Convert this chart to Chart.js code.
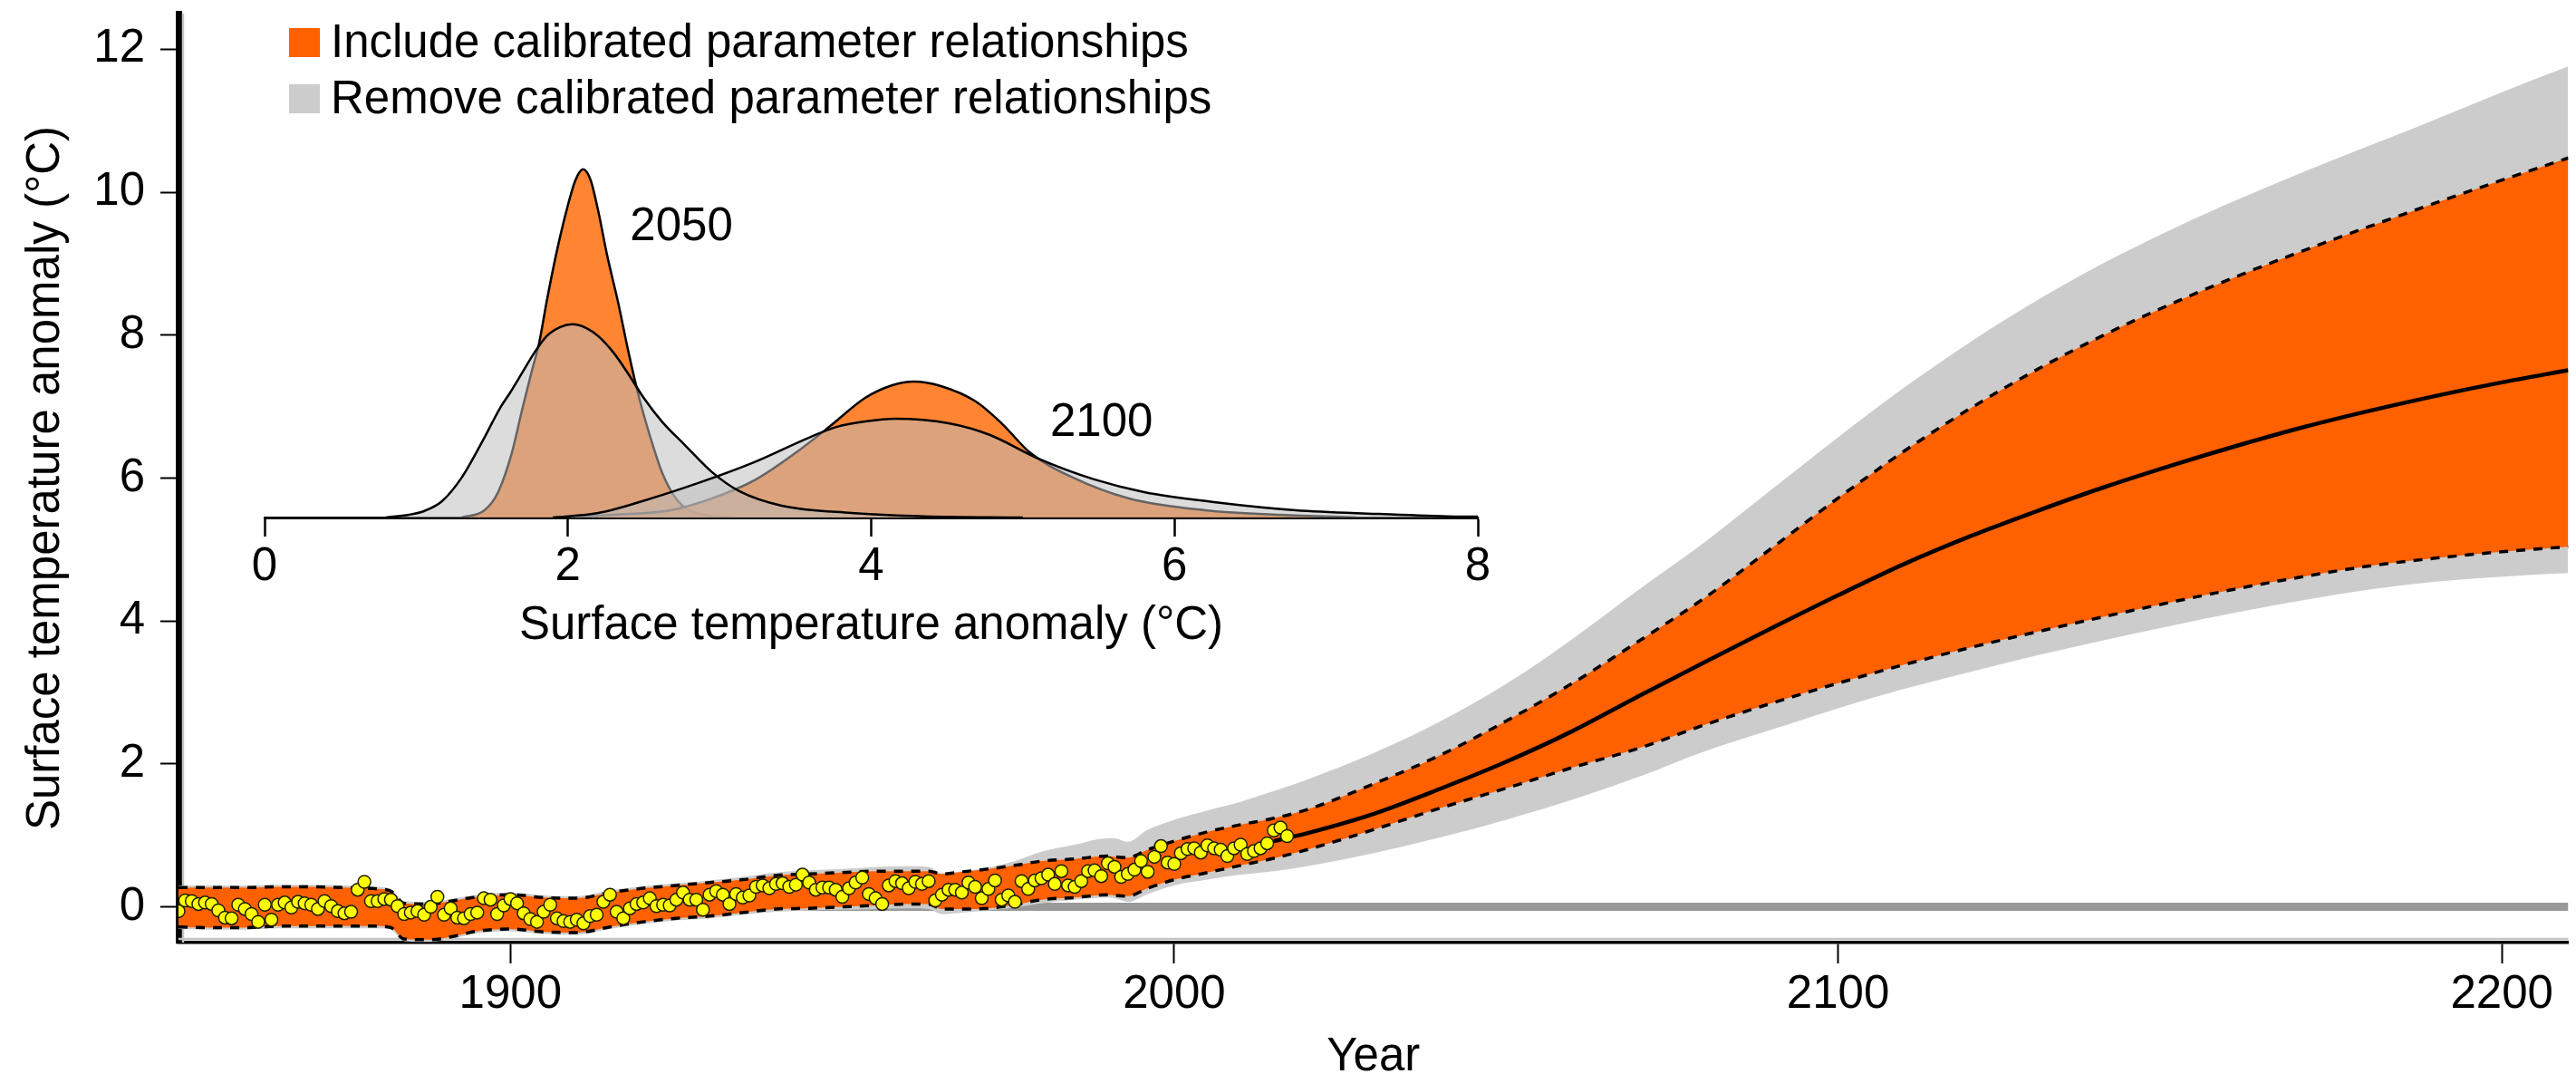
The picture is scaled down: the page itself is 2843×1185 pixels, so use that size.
<!DOCTYPE html>
<html>
<head>
<meta charset="utf-8">
<title>Surface temperature anomaly projections</title>
<script src="https://cdn.jsdelivr.net/npm/chart.js@4.4.1/dist/chart.umd.min.js"></script>
<style>
  html, body { margin: 0; padding: 0; background: #ffffff; }
  #wrap { position: relative; width: 2843px; height: 1185px; overflow: hidden; }
  #main { position: absolute; left: 0; top: 0; }
  #inset { position: absolute; left: 200px; top: 150px; }
</style>
</head>
<body>
<div id="wrap">
  <canvas id="main" width="2843" height="1185"></canvas>
  <canvas id="inset" width="1500" height="620"></canvas>
</div>
<script>
// ---------- main panel data ----------
const X_TICKS = [1900, 2000, 2100, 2200];
const Y_TICKS = [0, 2, 4, 6, 8, 10, 12];

// years at which the envelope edges are given
const BAND_YEARS = [1850, 1855, 1860, 1865, 1870, 1875, 1880, 1882, 1884, 1888, 1891,
  1895, 1900, 1905, 1910, 1915, 1920, 1925, 1930, 1935, 1940, 1945, 1950, 1955, 1960,
  1963, 1965, 1968, 1972, 1976, 1980, 1985, 1990, 1991, 1993, 1996, 2000, 2005, 2010,
  2015, 2020, 2030, 2040, 2050, 2060, 2070, 2080, 2090, 2100, 2110, 2120, 2130, 2140,
  2150, 2160, 2170, 2180, 2190, 2200, 2210];

// "Remove calibrated parameter relationships" envelope
const GRAY_HI = [0.30, 0.30, 0.30, 0.31, 0.31, 0.30, 0.28, 0.25, 0.08, 0.07, 0.11,
  0.17, 0.20, 0.16, 0.15, 0.23, 0.29, 0.33, 0.37, 0.42, 0.48, 0.51, 0.53, 0.56, 0.57,
  0.56, 0.47, 0.50, 0.55, 0.64, 0.77, 0.87, 0.96, 0.96, 0.91, 1.08, 1.22, 1.35, 1.47,
  1.62, 1.78, 2.15, 2.59, 3.12, 3.75, 4.44, 5.11, 5.84, 6.57, 7.27, 7.91, 8.49, 9.01,
  9.47, 9.89, 10.28, 10.65, 11.02, 11.40, 11.76];
const GRAY_LO = [-0.31, -0.32, -0.32, -0.30, -0.30, -0.30, -0.30, -0.32, -0.48, -0.49, -0.45,
  -0.37, -0.34, -0.38, -0.39, -0.31, -0.24, -0.19, -0.16, -0.11, -0.07, -0.05, -0.04, -0.03, -0.02,
  -0.03, -0.10, -0.08, -0.05, -0.01, 0.05, 0.10, 0.13, 0.12, 0.07, 0.18, 0.30, 0.38, 0.45,
  0.50, 0.57, 0.75, 0.97, 1.22, 1.50, 1.82, 2.18, 2.48, 2.78, 3.05, 3.29, 3.52, 3.73,
  3.93, 4.12, 4.29, 4.44, 4.55, 4.62, 4.67];

// "Include calibrated parameter relationships" envelope (dashed edges)
const ORANGE_HI = [0.27, 0.27, 0.27, 0.28, 0.28, 0.27, 0.25, 0.22, 0.05, 0.04, 0.08,
  0.14, 0.17, 0.13, 0.12, 0.20, 0.26, 0.30, 0.34, 0.38, 0.44, 0.46, 0.48, 0.50, 0.50,
  0.50, 0.46, 0.49, 0.53, 0.58, 0.64, 0.67, 0.71, 0.70, 0.69, 0.80, 0.92, 1.05, 1.15,
  1.24, 1.36, 1.72, 2.12, 2.60, 3.13, 3.72, 4.33, 5.02, 5.72, 6.38, 6.98, 7.52, 8.00,
  8.43, 8.82, 9.18, 9.52, 9.85, 10.17, 10.48];
const ORANGE_LO = [-0.28, -0.29, -0.29, -0.27, -0.27, -0.27, -0.27, -0.29, -0.45, -0.46, -0.42,
  -0.34, -0.31, -0.35, -0.36, -0.28, -0.21, -0.16, -0.13, -0.08, -0.03, -0.02, 0.00, 0.02, 0.04,
  0.04, -0.03, -0.03, -0.02, 0.03, 0.10, 0.13, 0.17, 0.16, 0.15, 0.26, 0.38, 0.48, 0.58,
  0.68, 0.80, 1.08, 1.38, 1.66, 1.95, 2.22, 2.55, 2.85, 3.13, 3.39, 3.63, 3.85, 4.06,
  4.26, 4.45, 4.62, 4.77, 4.88, 4.97, 5.04];

// central projection (starts where the observations end)
const MEDIAN = [null, null, null, null, null, null, null, null, null, null, null,
  null, null, null, null, null, null, null, null, null, null, null, null, null, null,
  null, null, null, null, null, null, null, null, null, null, null, null, null, null,
  0.92, 1.03, 1.30, 1.65, 2.03, 2.46, 2.95, 3.43, 3.90, 4.36, 4.80, 5.19, 5.54, 5.87,
  6.17, 6.45, 6.71, 6.94, 7.15, 7.34, 7.51];

// observed annual anomalies, 1850-2017
const OBS_START = 1850;
const OBS = [
  -0.06, 0.09, 0.08, 0.04, 0.06, 0.04, -0.05, -0.15, -0.16, 0.03,
  -0.03, -0.10, -0.21, 0.03, -0.18, 0.03, 0.06, -0.01, 0.07, 0.05,
  0.03, -0.03, 0.08, 0.01, -0.06, -0.09, -0.07, 0.24, 0.35, 0.08,
  0.08, 0.11, 0.10, 0.01, -0.10, -0.08, -0.06, -0.11, 0.00, 0.14,
  -0.11, -0.02, -0.15, -0.16, -0.10, -0.08, 0.12, 0.10, -0.10, 0.02,
  0.11, 0.05, -0.09, -0.17, -0.21, -0.07, 0.03, -0.16, -0.20, -0.21,
  -0.18, -0.23, -0.13, -0.11, 0.07, 0.17, -0.07, -0.16, -0.02, 0.04,
  0.06, 0.12, 0.01, 0.03, 0.02, 0.10, 0.20, 0.10, 0.10, -0.04,
  0.17, 0.22, 0.17, 0.04, 0.18, 0.13, 0.16, 0.28, 0.30, 0.26,
  0.32, 0.33, 0.28, 0.31, 0.45, 0.34, 0.24, 0.27, 0.27, 0.24,
  0.14, 0.26, 0.34, 0.41, 0.18, 0.12, 0.04, 0.30, 0.36, 0.33,
  0.26, 0.35, 0.32, 0.36, 0.09, 0.17, 0.24, 0.24, 0.20, 0.34,
  0.28, 0.12, 0.25, 0.37, 0.10, 0.16, 0.07, 0.36, 0.25, 0.37,
  0.40, 0.45, 0.32, 0.50, 0.30, 0.28, 0.36, 0.50, 0.51, 0.43,
  0.61, 0.56, 0.42, 0.46, 0.52, 0.64, 0.49, 0.70, 0.85, 0.62,
  0.60, 0.75, 0.81, 0.82, 0.76, 0.86, 0.82, 0.80, 0.71, 0.82,
  0.87, 0.74, 0.78, 0.82, 0.89, 1.07, 1.11, 0.99];
const OBS_YEARS = OBS.map((_, i) => OBS_START + i);

const LEGEND_ITEMS = [
  { text: 'Include calibrated parameter relationships', color: '#FF6000' },
  { text: 'Remove calibrated parameter relationships', color: '#CCCCCC' }
];

// ---------- inset data: distributions of warming in 2050 and 2100 ----------
const INSET_TICKS = [0, 2, 4, 6, 8];
const INC_2050_T = [1.30, 1.45, 1.54, 1.63, 1.70, 1.76, 1.81, 1.86, 1.92, 1.99, 2.05, 2.10,
  2.15, 2.20, 2.26, 2.33, 2.40, 2.47, 2.55, 2.62, 2.70, 2.78, 2.90, 3.10];
const INC_2050_D = [0, 0.024, 0.084, 0.213, 0.360, 0.480, 0.575, 0.713, 0.863, 1.012, 1.114, 1.150,
  1.114, 1.012, 0.863, 0.713, 0.545, 0.395, 0.255, 0.150, 0.072, 0.030, 0.009, 0];
const REM_2050_T = [0.80, 0.95, 1.05, 1.17, 1.30, 1.44, 1.55, 1.62, 1.70, 1.78, 1.86, 1.95, 2.03,
  2.12, 2.20, 2.30, 2.40, 2.50, 2.62, 2.77, 2.95, 3.13, 3.41, 3.87, 4.35, 5.00];
const REM_2050_D = [0, 0.009, 0.021, 0.054, 0.132, 0.255, 0.359, 0.413, 0.479, 0.545, 0.599, 0.629, 0.638,
  0.626, 0.599, 0.545, 0.473, 0.395, 0.317, 0.240, 0.150, 0.087, 0.039, 0.015, 0.004, 0];
const INC_2100_T = [2.00, 2.30, 2.68, 2.95, 3.23, 3.50, 3.73, 3.96, 4.14, 4.28, 4.46, 4.69,
  4.86, 5.05, 5.33, 5.70, 6.20, 6.70, 7.20];
const INC_2100_D = [0, 0.009, 0.024, 0.063, 0.123, 0.213, 0.302, 0.395, 0.437, 0.449, 0.434, 0.383,
  0.311, 0.213, 0.132, 0.063, 0.024, 0.009, 0];
const REM_2100_T = [1.90, 2.20, 2.49, 2.86, 3.23, 3.59, 3.77, 3.96, 4.16, 4.51, 4.78, 5.10,
  5.47, 5.80, 6.26, 6.80, 7.33, 7.80, 8.00];
const REM_2100_D = [0, 0.015, 0.054, 0.114, 0.183, 0.264, 0.299, 0.317, 0.326, 0.311, 0.273, 0.195,
  0.126, 0.084, 0.051, 0.024, 0.012, 0.004, 0.003];

// year labels placed next to each pair of curves (value coordinates)
const INSET_LABELS = [
  { text: '2050', x: 2.41, y: 0.958 },
  { text: '2100', x: 5.18, y: 0.311 }
];

// ---------- shared styling ----------
const FONT = '"Liberation Sans", Arial, Helvetica, sans-serif';
const ORANGE = '#FF6000';
const GRAY = '#CCCCCC';

Chart.defaults.font.family = FONT;
Chart.defaults.color = '#000000';

function points(xs, ys) {
  const out = [];
  xs.forEach((x, i) => { if (ys[i] !== null) out.push({ x: x, y: ys[i] }); });
  return out;
}

function fixedTicks(values) {
  return function (scale) { scale.ticks = values.map(v => ({ value: v })); };
}

// fixed axis box sizes, without extra room for overhanging labels
function fixedBox(size) {
  return function (scale) {
    if (scale.isHorizontal()) scale.height = size; else scale.width = size;
    scale.paddingTop = 0; scale.paddingBottom = 0;
    scale.paddingLeft = 0; scale.paddingRight = 0;
  };
}

// thin grey rules along the inner side of both axes, and the legend
const mainDecor = {
  id: 'mainDecor',
  beforeDatasetsDraw(chart) {
    const { ctx, chartArea: a } = chart;
    ctx.save();
    ctx.strokeStyle = '#C4C4C4';
    ctx.lineWidth = 2.5;
    ctx.beginPath();
    ctx.moveTo(a.left + 5, a.top);
    ctx.lineTo(a.left + 5, a.bottom);
    ctx.moveTo(a.left, a.bottom - 4);
    ctx.lineTo(a.right, a.bottom - 4);
    ctx.stroke();
    ctx.restore();
  },
  afterDraw(chart) {
    const { ctx } = chart;
    ctx.save();
    ctx.font = '51px ' + FONT;
    ctx.textAlign = 'left';
    ctx.textBaseline = 'alphabetic';
    LEGEND_ITEMS.forEach((item, i) => {
      const top = 31 + i * 62;
      ctx.fillStyle = item.color;
      ctx.fillRect(319, top, 34, 32);
      ctx.fillStyle = '#000000';
      ctx.fillText(item.text, 365, top + 32);
    });
    ctx.restore();
  }
};

const lineBase = { pointRadius: 0, cubicInterpolationMode: 'monotone' };
const DASH = [10, 9];

new Chart(document.getElementById('main'), {
  type: 'line',
  data: {
    datasets: [
      Object.assign({ label: 'zero', data: points([1850, 2210], [0, 0]),
        borderColor: '#999999', borderWidth: 9, fill: false, order: 10 }, lineBase),
      Object.assign({ label: 'Remove calibrated parameter relationships', data: points(BAND_YEARS, GRAY_HI),
        borderColor: 'rgba(0,0,0,0)', borderWidth: 0, backgroundColor: GRAY, fill: '+1', order: 9 }, lineBase),
      Object.assign({ label: 'remove-low', data: points(BAND_YEARS, GRAY_LO),
        borderColor: 'rgba(0,0,0,0)', borderWidth: 0, fill: false, order: 8 }, lineBase),
      Object.assign({ label: 'Include calibrated parameter relationships', data: points(BAND_YEARS, ORANGE_HI),
        borderColor: '#000000', borderWidth: 3.5, borderDash: DASH, backgroundColor: ORANGE, fill: '+1', order: 7 }, lineBase),
      Object.assign({ label: 'include-low', data: points(BAND_YEARS, ORANGE_LO),
        borderColor: '#000000', borderWidth: 3.5, borderDash: DASH, fill: false, order: 6 }, lineBase),
      Object.assign({ label: 'central', data: points(BAND_YEARS, MEDIAN),
        borderColor: '#000000', borderWidth: 4.5, fill: false, order: 5 }, lineBase),
      { label: 'observed', data: points(OBS_YEARS, OBS), showLine: false,
        pointRadius: 7, pointBackgroundColor: '#FFFF00', pointBorderColor: '#1E1E00',
        pointBorderWidth: 1.5, order: 4 }
    ]
  },
  options: {
    responsive: false,
    animation: false,
    devicePixelRatio: 1,
    layout: { padding: { left: 0, right: 0, top: 15, bottom: 0 } },
    plugins: { legend: { display: false }, tooltip: { enabled: false } },
    scales: {
      x: {
        type: 'linear', min: 1850, max: 2210,
        afterBuildTicks: fixedTicks(X_TICKS),
        afterFit: fixedBox(145),
        ticks: { font: { size: 51 }, color: '#000', padding: 4, maxRotation: 0, autoSkip: false,
                 callback: v => String(v) },
        grid: { drawOnChartArea: false, drawTicks: true, tickLength: 23, tickWidth: 2, tickColor: '#000' },
        border: { display: true, color: '#000', width: 3.5 },
        title: { display: true, text: 'Year', color: '#000',
                 font: { size: 51, lineHeight: 0.7 }, padding: { top: 0, bottom: 0 } }
      },
      y: {
        type: 'linear', min: -0.5, max: 12.5,
        afterBuildTicks: fixedTicks(Y_TICKS),
        afterFit: fixedBox(197),
        ticks: { font: { size: 51 }, color: '#000', padding: 17, autoSkip: false },
        grid: { drawOnChartArea: false, drawTicks: true, tickLength: 20, tickWidth: 2, tickColor: '#000' },
        border: { display: true, color: '#000', width: 7 },
        title: { display: true, text: 'Surface temperature anomaly (°C)', color: '#000',
                 font: { size: 51 }, padding: { top: 20, bottom: 0 } }
      }
    }
  },
  plugins: [mainDecor]
});

// ---------- inset ----------
const insetLabels = {
  id: 'insetLabels',
  afterDatasetsDraw(chart) {
    const { ctx } = chart;
    const xs = chart.scales.x, ys = chart.scales.y;
    ctx.save();
    ctx.font = '51px ' + FONT;
    ctx.fillStyle = '#000';
    ctx.textAlign = 'left';
    ctx.textBaseline = 'middle';
    INSET_LABELS.forEach(l => {
      ctx.fillText(l.text, xs.getPixelForValue(l.x), ys.getPixelForValue(l.y));
    });
    ctx.restore();
  }
};

const incFill = 'rgba(255,102,0,0.8)';
const remFill = 'rgba(189,189,189,0.53)';
const curve = { pointRadius: 0, cubicInterpolationMode: 'monotone' };

new Chart(document.getElementById('inset'), {
  type: 'line',
  data: {
    datasets: [
      Object.assign({ label: 'Include 2050', data: points(INC_2050_T, INC_2050_D),
        fill: 'origin', backgroundColor: incFill, borderColor: '#000', borderWidth: 2.5, order: 6 }, curve),
      Object.assign({ label: 'Include 2100', data: points(INC_2100_T, INC_2100_D),
        fill: 'origin', backgroundColor: incFill, borderColor: '#000', borderWidth: 2.5, order: 5 }, curve),
      Object.assign({ label: 'Remove 2050 fill', data: points(REM_2050_T, REM_2050_D),
        fill: 'origin', backgroundColor: remFill, borderColor: 'rgba(0,0,0,0)', borderWidth: 0, order: 4 }, curve),
      Object.assign({ label: 'Remove 2100 fill', data: points(REM_2100_T, REM_2100_D),
        fill: 'origin', backgroundColor: remFill, borderColor: 'rgba(0,0,0,0)', borderWidth: 0, order: 3 }, curve),
      Object.assign({ label: 'Remove 2050', data: points(REM_2050_T, REM_2050_D),
        fill: false, borderColor: '#000', borderWidth: 2.5, order: 2 }, curve),
      Object.assign({ label: 'Remove 2100', data: points(REM_2100_T, REM_2100_D),
        fill: false, borderColor: '#000', borderWidth: 2.5, order: 1 }, curve)
    ]
  },
  options: {
    responsive: false,
    animation: false,
    devicePixelRatio: 1,
    layout: { padding: { left: 92, right: 69, top: 20, bottom: 0 } },
    plugins: { legend: { display: false }, tooltip: { enabled: false } },
    scales: {
      x: {
        type: 'linear', min: 0, max: 8,
        afterBuildTicks: fixedTicks(INSET_TICKS),
        afterFit: fixedBox(199),
        ticks: { font: { size: 51 }, color: '#000', padding: 3, maxRotation: 0, autoSkip: false },
        grid: { drawOnChartArea: false, drawTicks: true, tickLength: 21, tickWidth: 2.5, tickColor: '#000' },
        border: { display: true, color: '#000', width: 3 },
        title: { display: true, text: 'Surface temperature anomaly (°C)', color: '#000',
                 font: { size: 51 }, padding: { top: 0, bottom: 48 } }
      },
      y: { display: false, min: 0, max: 1.2 }
    }
  },
  plugins: [insetLabels]
});
</script>
</body>
</html>
